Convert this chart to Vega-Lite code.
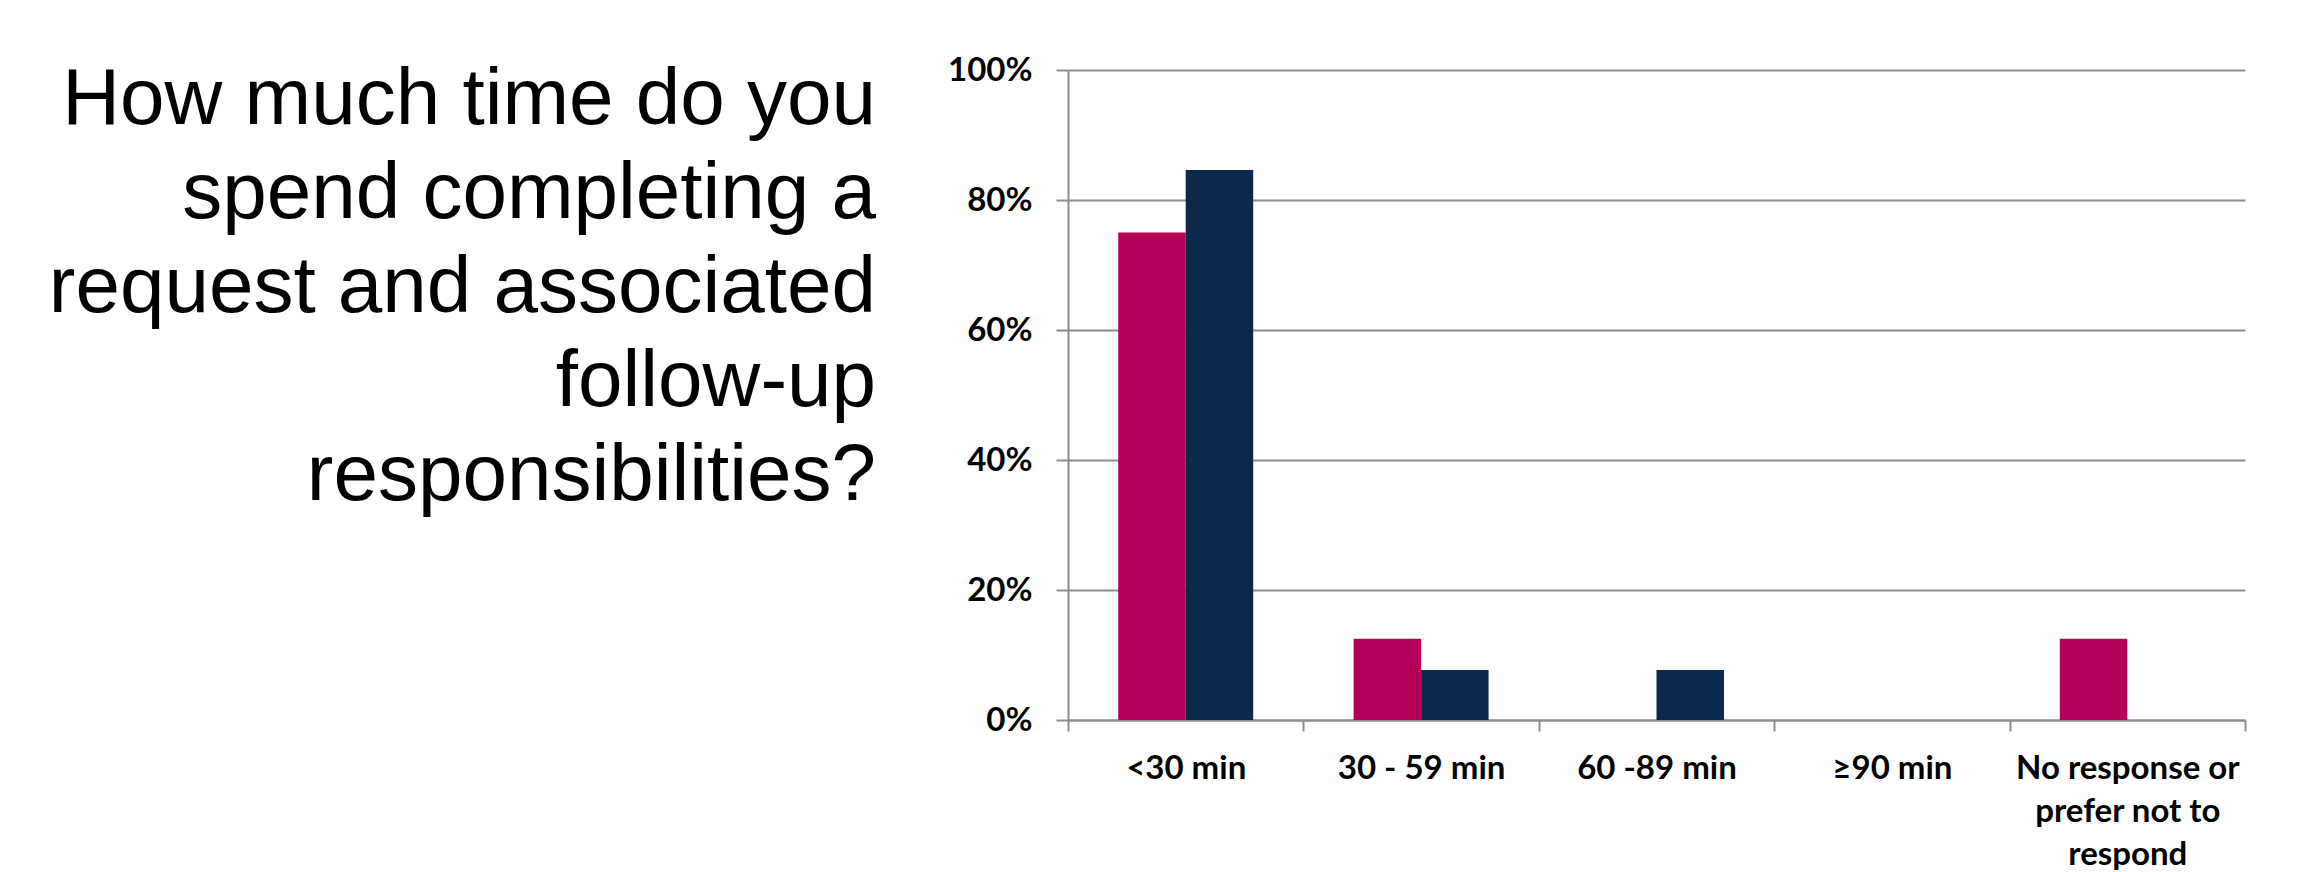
{
  "$schema": "https://vega.github.io/schema/vega-lite/v6.json",
  "width": 1177,
  "height": 650,
  "autosize": {"type": "none"},
  "padding": {"left": 1068, "top": 70, "right": 56, "bottom": 152},
  "background": "white",
  "title": {
    "text": ["How much time do you", "spend completing a", "request and associated", "follow-up", "responsibilities?"],
    "orient": "top",
    "anchor": "start",
    "frame": "group",
    "align": "right",
    "baseline": "top",
    "offset": 0,
    "dx": -192,
    "dy": 463,
    "font": "Liberation Sans",
    "fontSize": 80,
    "fontWeight": "normal",
    "color": "#000000",
    "lineHeight": 94
  },
  "data": {
    "values": [
      {"duration": "<30 min", "group": "Series 1", "share": 0.75},
      {"duration": "<30 min", "group": "Series 2", "share": 0.846},
      {"duration": "30 - 59 min", "group": "Series 1", "share": 0.125},
      {"duration": "30 - 59 min", "group": "Series 2", "share": 0.077},
      {"duration": "60 -89 min", "group": "Series 1", "share": 0},
      {"duration": "60 -89 min", "group": "Series 2", "share": 0.077},
      {"duration": "≥90 min", "group": "Series 1", "share": 0},
      {"duration": "≥90 min", "group": "Series 2", "share": 0},
      {"duration": "No response or prefer not to respond", "group": "Series 1", "share": 0.125},
      {"duration": "No response or prefer not to respond", "group": "Series 2", "share": 0}
    ]
  },
  "mark": {"type": "bar"},
  "encoding": {
    "x": {
      "field": "duration",
      "type": "nominal",
      "sort": ["<30 min", "30 - 59 min", "60 -89 min", "≥90 min", "No response or prefer not to respond"],
      "scale": {"paddingInner": 0, "paddingOuter": 0},
      "axis": {
        "title": null,
        "labelAngle": 0,
        "labelFont": "Lato",
        "labelFontWeight": "bold",
        "labelFontSize": 33,
        "labelColor": "#000000",
        "labelBaseline": "top",
        "labelPadding": 21,
        "labelLineHeight": 43,
        "labelLimit": 0,
        "labelExpr": "datum.value == 'No response or prefer not to respond' ? ['No response or', 'prefer not to', 'respond'] : datum.value",
        "tickBand": "extent",
        "tickSize": 11,
        "tickColor": "#8c8c8c",
        "tickWidth": 2,
        "domainColor": "#8c8c8c",
        "domainWidth": 2,
        "grid": false
      }
    },
    "xOffset": {
      "field": "group",
      "sort": ["Series 1", "Series 2"],
      "scale": {"paddingInner": 0, "paddingOuter": 0.744}
    },
    "y": {
      "field": "share",
      "type": "quantitative",
      "scale": {"domain": [0, 1], "nice": false},
      "axis": {
        "title": null,
        "format": ".0%",
        "values": [0, 0.2, 0.4, 0.6, 0.8, 1],
        "labelFont": "Lato",
        "labelFontWeight": "bold",
        "labelFontSize": 33,
        "labelColor": "#000000",
        "labelPadding": 24,
        "tickSize": 12,
        "tickColor": "#8c8c8c",
        "tickWidth": 2,
        "domainColor": "#8c8c8c",
        "domainWidth": 2,
        "grid": true,
        "gridColor": "#8c8c8c",
        "gridWidth": 2
      }
    },
    "color": {
      "field": "group",
      "type": "nominal",
      "scale": {"domain": ["Series 1", "Series 2"], "range": ["#b5005a", "#0b294d"]},
      "legend": null
    }
  },
  "config": {"view": {"stroke": null}}
}
